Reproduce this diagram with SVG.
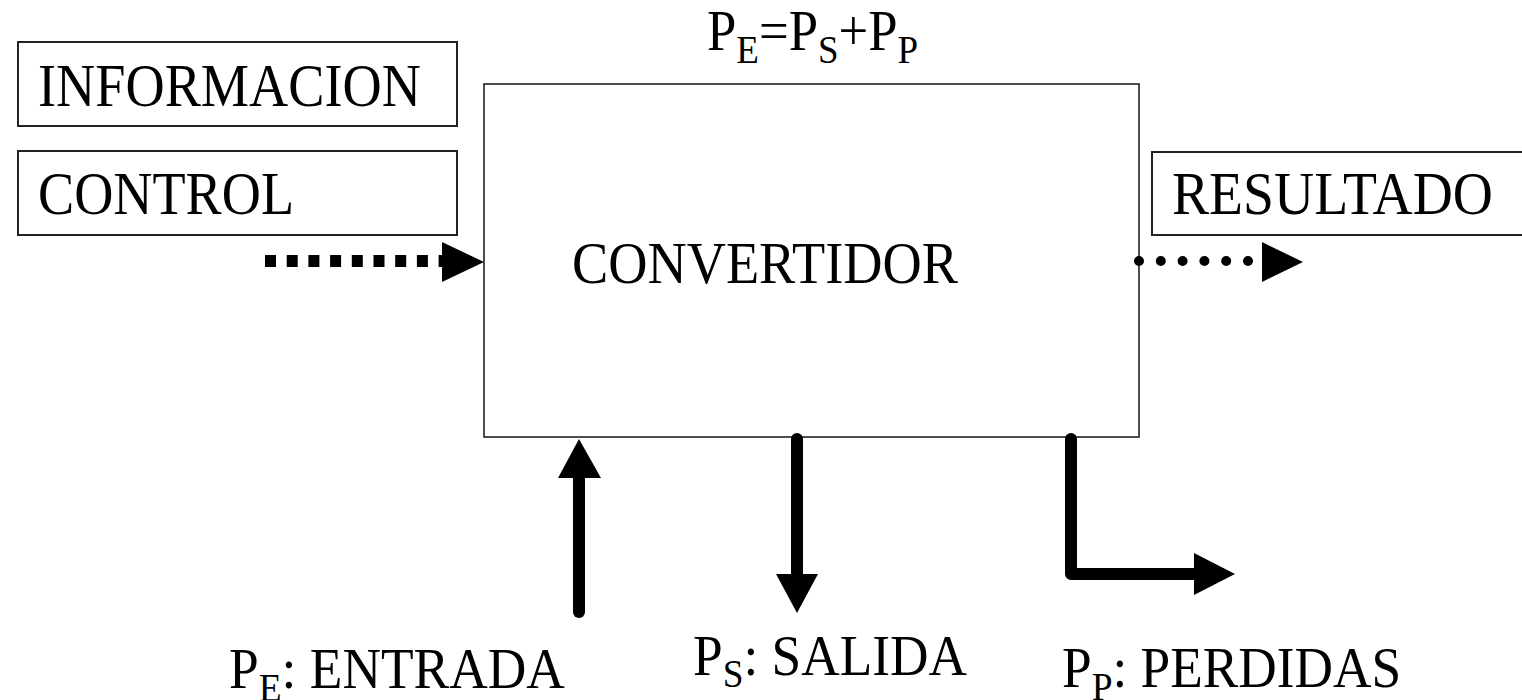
<svg xmlns="http://www.w3.org/2000/svg" width="1522" height="700" viewBox="0 0 1522 700">
<style>
.box{fill:#fff;stroke:#222;stroke-width:2}
.lbl{font-family:"Liberation Serif","Times New Roman",serif;font-size:61px;fill:#000}
.big{font-family:"Liberation Serif","Times New Roman",serif;font-size:57px;fill:#000}
.sub{font-size:40px}
.thick{fill:none;stroke:#000;stroke-width:12;stroke-linecap:round;stroke-linejoin:round}
.head{fill:#000}
</style>
<rect width="1522" height="700" fill="#fff"/>
<g id="informacion">
<rect class="box" x="18" y="42" width="439" height="84"/>
<text class="lbl" x="38" y="106" textLength="383" lengthAdjust="spacingAndGlyphs">INFORMACION</text>
</g>
<g id="control">
<rect class="box" x="18" y="151" width="439" height="84"/>
<text class="lbl" x="38" y="214" textLength="256" lengthAdjust="spacingAndGlyphs">CONTROL</text>
</g>
<g id="resultado">
<rect class="box" x="1152" y="152" width="420" height="83"/>
<text class="lbl" x="1172" y="214" textLength="321" lengthAdjust="spacingAndGlyphs">RESULTADO</text>
</g>
<g id="convertidor">
<rect class="box" x="484" y="84" width="655" height="353" style="stroke-width:1.6"/>
<text class="lbl" x="572" y="283" style="font-size:60px" textLength="386" lengthAdjust="spacingAndGlyphs">CONVERTIDOR</text>
</g>
<g id="formula">
<text class="big" transform="translate(707,50) scale(0.925,1)">P<tspan class="sub" dy="13">E</tspan><tspan dy="-13">=P</tspan><tspan class="sub" dy="13">S</tspan><tspan dy="-13">+P</tspan><tspan class="sub" dy="13">P</tspan></text>
</g>
<g id="entrada">
<text class="big" transform="translate(229,688) scale(0.937,1)">P<tspan class="sub" dy="13">E</tspan><tspan dy="-13">: ENTRADA</tspan></text>
</g>
<g id="salida">
<text class="big" transform="translate(693,675) scale(0.935,1)">P<tspan class="sub" dy="12">S</tspan><tspan dy="-12">: SALIDA</tspan></text>
</g>
<g id="perdidas">
<text class="big" transform="translate(1062,687) scale(0.935,1)">P<tspan class="sub" dy="13">P</tspan><tspan dy="-13">: PERDIDAS</tspan></text>
</g>
<g id="connectors">
<line x1="265" y1="261" x2="442" y2="261" stroke="#000" stroke-width="12" stroke-dasharray="11 10.7"/>
<polygon class="head" points="442,242 484,262 442,282"/>
<line x1="1139" y1="261" x2="1249" y2="261" stroke="#000" stroke-width="10" stroke-linecap="round" stroke-dasharray="0 21.8"/>
<polygon class="head" points="1262,242 1303,262 1262,282"/>
<line class="thick" x1="579" y1="612" x2="579" y2="478"/>
<polygon class="head" points="558,478 601,478 579,439"/>
<line class="thick" x1="797" y1="439" x2="797" y2="574"/>
<polygon class="head" points="776,574 818,574 797,613"/>
<path class="thick" d="M1071 439 V574 H1194"/>
<polygon class="head" points="1194,553 1235,574 1194,595"/>
</g>
</svg>
